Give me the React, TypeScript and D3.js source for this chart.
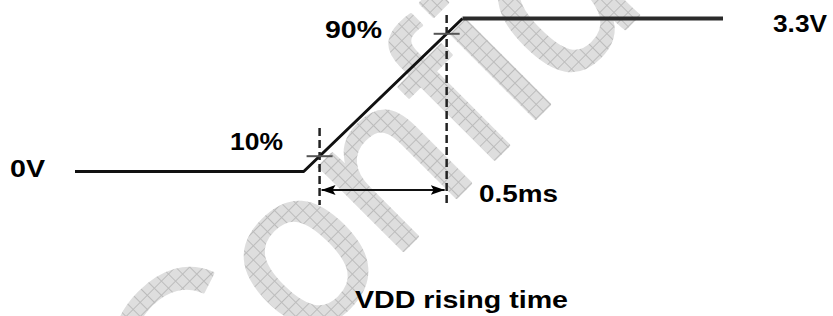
import React from "react";
import * as d3 from "d3";

const W = 833;
const H = 316;

// Waveform (time in ms, voltage in V)
const waveTimes = [0, 0.9, 1.525, 2.55];
const waveVolts = [0, 0, 3.3, 3.3];
// Threshold fractions of the supply used for the rise-time measurement
const thresholdFractions = [0.1, 0.9];
const thresholdLabels = ["10%", "90%"];
const levelLabels = ["0V", "3.3V"];
const riseTimeLabel = "0.5ms";
const titleLabel = "VDD rising time";
const watermarkText = "Confidential";

const FONT = "'Liberation Sans', Arial, Helvetica, sans-serif";

export default function App() {
  const x = d3.scaleLinear().domain([0, 2.55]).range([75, 723]);
  const y = d3.scaleLinear().domain([0, 3.3]).range([171.5, 18.5]);

  const line = d3
    .line<number>()
    .x((_, i) => x(waveTimes[i]))
    .y((v) => y(v));

  const riseStart = waveTimes[1];
  const riseDur = waveTimes[2] - waveTimes[1];
  const vmax = waveVolts[2];
  const crossings = thresholdFractions.map((f) => ({
    t: riseStart + riseDur * f,
    v: vmax * f,
  }));
  const xa = x(crossings[0].t);
  const xb = x(crossings[1].t);
  const arrowY = 190;

  return (
    <svg
      width={W}
      height={H}
      viewBox={`0 0 ${W} ${H}`}
      style={{ position: "absolute", left: 0, top: 0, background: "#fff" }}
    >
      <defs>
        <pattern id="grid" width={10} height={10} patternUnits="userSpaceOnUse">
          <rect width={10} height={10} fill="#dedede" />
          <path d="M0 0.5H10M0.5 0V10" stroke="#bcbcbc" strokeWidth={1} />
        </pattern>
        <marker
          id="ah"
          viewBox="0 0 14 10"
          refX={14}
          refY={5}
          markerWidth={14}
          markerHeight={10}
          markerUnits="userSpaceOnUse"
          orient="auto-start-reverse"
        >
          <path d="M0 0L14 5L0 10L3 5Z" fill="#000" />
        </marker>
      </defs>

      {/* watermark */}
      <text
        transform="translate(189,465) rotate(-45)"
        fontFamily={FONT}
        fontSize={225}
        fill="url(#grid)"
        stroke="url(#grid)"
        strokeWidth={3}
        strokeLinejoin="round"
      >
        {watermarkText}
      </text>

      {/* waveform */}
      <path
        d={line(waveVolts.slice(0, 3)) || ""}
        fill="none"
        stroke="#111"
        strokeWidth={3}
        strokeLinejoin="round"
      />
      <line
        x1={x(waveTimes[2])}
        x2={x(waveTimes[3])}
        y1={y(waveVolts[3])}
        y2={y(waveVolts[3])}
        stroke="#2a2a2a"
        strokeWidth={4}
      />

      {/* dashed markers */}
      <line x1={xa} x2={xa} y1={128} y2={205} stroke="#222" strokeWidth={2.5} strokeDasharray="8,4" />
      <line x1={xb} x2={xb} y1={15} y2={205} stroke="#222" strokeWidth={2.5} strokeDasharray="8,4" />

      {/* crossing ticks */}
      {crossings.map((c, i) => (
        <line
          key={i}
          x1={x(c.t) - 13}
          x2={x(c.t) + 13}
          y1={y(c.v)}
          y2={y(c.v)}
          stroke="#555"
          strokeWidth={2}
        />
      ))}

      {/* rise-time arrow */}
      <line
        x1={xa + 2}
        x2={xb - 2}
        y1={arrowY}
        y2={arrowY}
        stroke="#111"
        strokeWidth={2}
        markerStart="url(#ah)"
        markerEnd="url(#ah)"
      />

      {/* labels */}
      <g fontFamily={FONT} fontWeight="bold" fontSize={24} fill="#000">
        <text x={773} y={31.5} textLength={54} lengthAdjust="spacingAndGlyphs">
          {levelLabels[1]}
        </text>
        <text x={10} y={177} textLength={35} lengthAdjust="spacingAndGlyphs">
          {levelLabels[0]}
        </text>
        <text x={325} y={38} textLength={57} lengthAdjust="spacingAndGlyphs">
          {thresholdLabels[1]}
        </text>
        <text x={230} y={150} textLength={53} lengthAdjust="spacingAndGlyphs">
          {thresholdLabels[0]}
        </text>
        <text x={479} y={201.5} textLength={79} lengthAdjust="spacingAndGlyphs">
          {riseTimeLabel}
        </text>
        <text x={355} y={308} textLength={213} lengthAdjust="spacingAndGlyphs">
          {titleLabel}
        </text>
      </g>
    </svg>
  );
}
